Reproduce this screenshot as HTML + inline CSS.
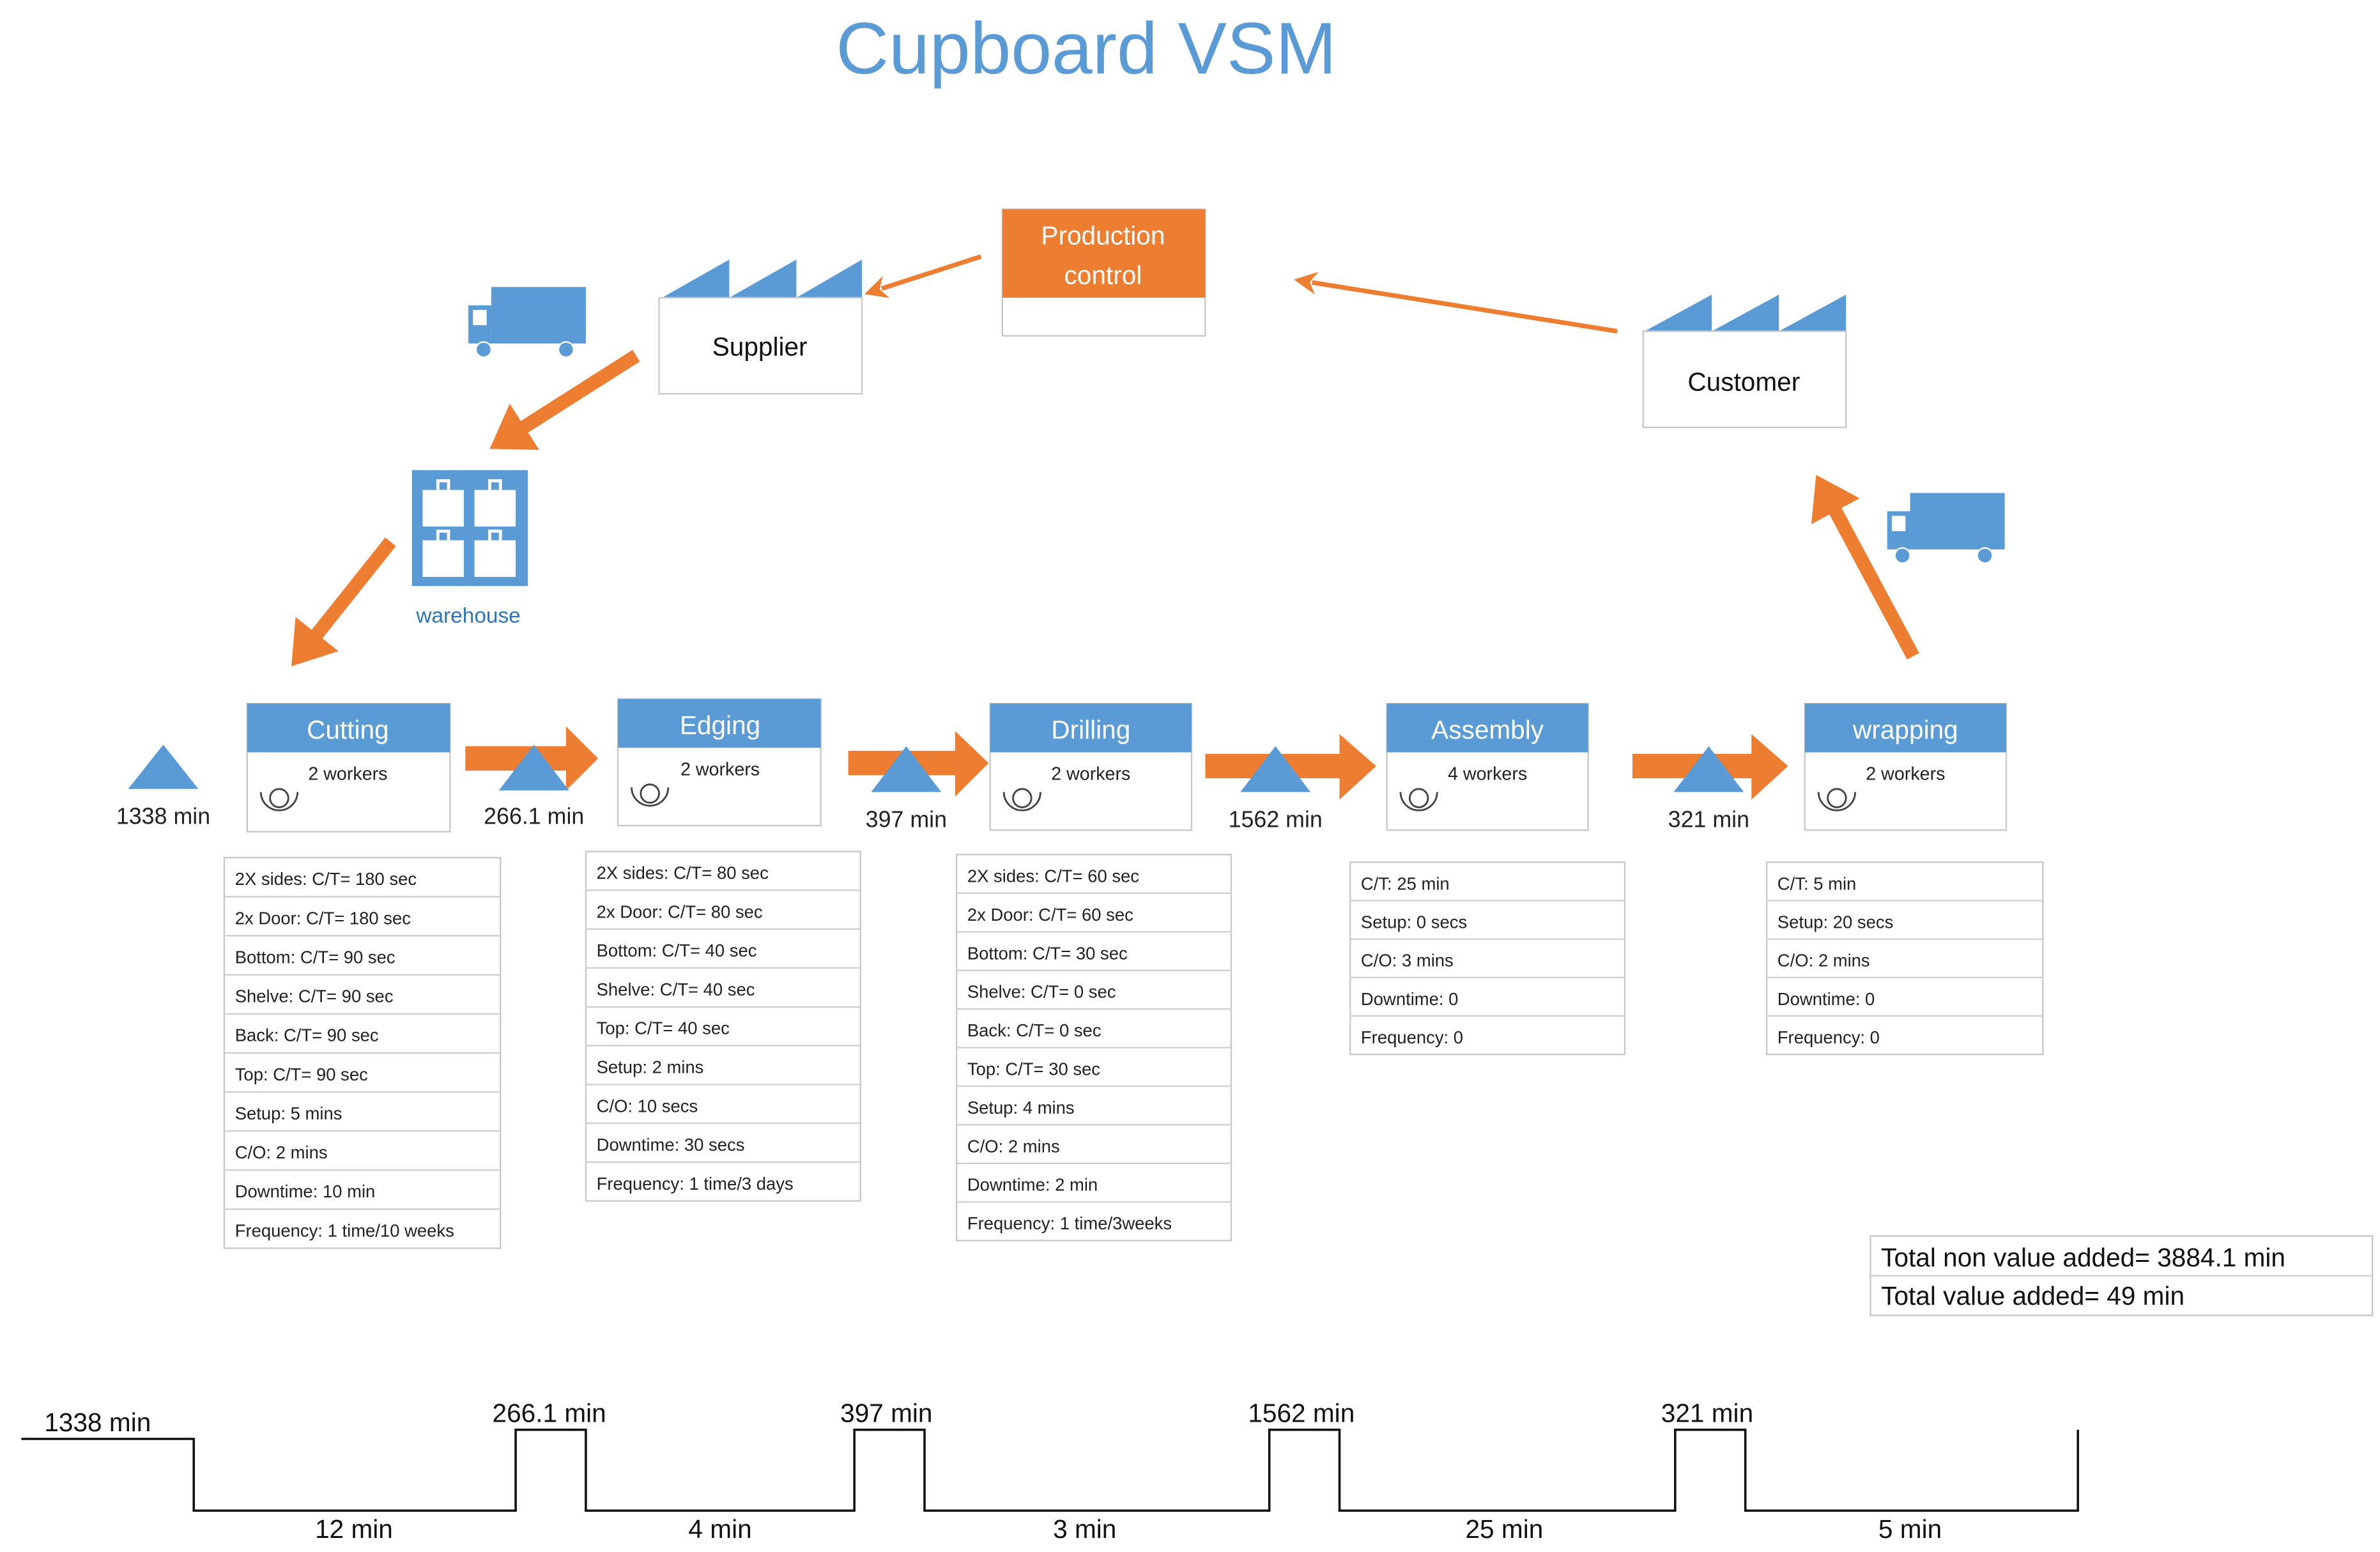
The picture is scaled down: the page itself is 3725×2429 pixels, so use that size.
<!DOCTYPE html>
<html><head><meta charset="utf-8"><style>html,body{margin:0;padding:0;background:#fff}svg{display:block}</style></head>
<body>
<svg width="3725" height="2429" viewBox="0 0 1560 1017" xmlns="http://www.w3.org/2000/svg" font-family="'Liberation Sans', sans-serif">
<defs>
<marker id="th" markerWidth="4" markerHeight="4" refX="0.5" refY="2" orient="auto" markerUnits="strokeWidth"><path d="M0,0 L3,2 L0,4 Z" fill="#ed7d31"/></marker>
<marker id="tn" markerWidth="5" markerHeight="5" refX="1" refY="2.5" orient="auto" markerUnits="strokeWidth"><path d="M0,0 L5,2.5 L0,5 L1.5,2.5 Z" fill="#ed7d31"/></marker>
<g id="truck"><rect x="15" y="0" width="62" height="37" fill="#5b9bd5"/><rect x="0" y="12" width="15" height="25" fill="#5b9bd5"/><rect x="3" y="15" width="9" height="10" fill="#fff"/><circle cx="10" cy="41" r="5" fill="#5b9bd5" stroke="#fff" stroke-width="1"/><circle cx="64" cy="41" r="5" fill="#5b9bd5" stroke="#fff" stroke-width="1"/></g>
<g id="op" fill="none" stroke="#444" stroke-width="1.2"><circle cx="0" cy="0" r="6"/><path d="M-12,-4 A12,12 0 0 0 12,-4"/></g>
</defs>
<text x="712" y="48" text-anchor="middle" font-size="48" fill="#5b9bd5">Cupboard VSM</text>

<rect x="657" y="137" width="133" height="83" fill="#fff" stroke="#c8c8c8"/>
<rect x="657" y="137" width="133" height="58" fill="#ed7d31"/>
<text x="723" y="160" text-anchor="middle" font-size="17" fill="#fff">Production</text>
<text x="723" y="186" text-anchor="middle" font-size="17" fill="#fff">control</text>

<path d="M434,195 L478,170 L478,195 Z M478,195 L522,170 L522,195 Z M522,195 L565,170 L565,195 Z" fill="#5b9bd5"/>
<rect x="432" y="195" width="133" height="63" fill="#fff" stroke="#c8c8c8"/>
<text x="498" y="233" text-anchor="middle" font-size="17" fill="#111">Supplier</text>

<path d="M1078,217 L1122,193 L1122,217 Z M1122,217 L1166,193 L1166,217 Z M1166,217 L1210,193 L1210,217 Z" fill="#5b9bd5"/>
<rect x="1077" y="217" width="133" height="63" fill="#fff" stroke="#c8c8c8"/>
<text x="1143" y="256" text-anchor="middle" font-size="17" fill="#111">Customer</text>

<line x1="643" y1="168" x2="578" y2="189" stroke="#ed7d31" stroke-width="3" marker-end="url(#tn)"/>
<line x1="1060" y1="217" x2="860" y2="185" stroke="#ed7d31" stroke-width="3" marker-end="url(#tn)"/>

<use href="#truck" x="307" y="188"/>
<use href="#truck" x="1237" y="323"/>

<line x1="417" y1="233" x2="340" y2="282" stroke="#ed7d31" stroke-width="9" marker-end="url(#th)"/>
<line x1="256" y1="355" x2="205" y2="419" stroke="#ed7d31" stroke-width="9" marker-end="url(#th)"/>
<line x1="1254" y1="430" x2="1201" y2="331" stroke="#ed7d31" stroke-width="9" marker-end="url(#th)"/>

<rect x="270" y="308" width="76" height="76" fill="#5b9bd5"/>
<g fill="#fff">
<rect x="277" y="321" width="27" height="24"/><rect x="311" y="321" width="27" height="24"/>
<rect x="277" y="354" width="27" height="24"/><rect x="311" y="354" width="27" height="24"/>
</g>
<g fill="none" stroke="#fff" stroke-width="2"><rect x="287" y="315" width="7" height="7"/><rect x="321" y="315" width="7" height="7"/><rect x="287" y="348" width="7" height="7"/><rect x="321" y="348" width="7" height="7"/></g>
<text x="307" y="408" text-anchor="middle" font-size="14" fill="#2e75b6">warehouse</text>

<g font-size="17" fill="#fff" text-anchor="middle">
<rect x="162" y="461" width="133" height="84" fill="#fff" stroke="#c8c8c8"/><rect x="162" y="461" width="133" height="32" fill="#5b9bd5"/><text x="228" y="484">Cutting</text>
<rect x="405" y="458" width="133" height="83" fill="#fff" stroke="#c8c8c8"/><rect x="405" y="458" width="133" height="32" fill="#5b9bd5"/><text x="472" y="481">Edging</text>
<rect x="649" y="461" width="132" height="83" fill="#fff" stroke="#c8c8c8"/><rect x="649" y="461" width="132" height="32" fill="#5b9bd5"/><text x="715" y="484">Drilling</text>
<rect x="909" y="461" width="132" height="83" fill="#fff" stroke="#c8c8c8"/><rect x="909" y="461" width="132" height="32" fill="#5b9bd5"/><text x="975" y="484">Assembly</text>
<rect x="1183" y="461" width="132" height="83" fill="#fff" stroke="#c8c8c8"/><rect x="1183" y="461" width="132" height="32" fill="#5b9bd5"/><text x="1249" y="484">wrapping</text>
</g>
<g font-size="12" fill="#222" text-anchor="middle">
<text x="228" y="511">2 workers</text><text x="472" y="508">2 workers</text><text x="715" y="511">2 workers</text><text x="975" y="511">4 workers</text><text x="1249" y="511">2 workers</text>
</g>
<use href="#op" x="183" y="523"/><use href="#op" x="426" y="520"/><use href="#op" x="670" y="523"/><use href="#op" x="930" y="523"/><use href="#op" x="1204" y="523"/>

<g fill="#ed7d31">
<rect x="305" y="489" width="68" height="16"/><path d="M371,476 L392,497 L371,518 Z"/>
<rect x="556" y="492" width="72" height="16"/><path d="M626,479 L648,500 L626,522 Z"/>
<rect x="790" y="494" width="90" height="16"/><path d="M878,481 L902,502 L878,524 Z"/>
<rect x="1070" y="494" width="80" height="16"/><path d="M1148,481 L1172,502 L1148,524 Z"/>
</g>
<g fill="#5b9bd5">
<path d="M84,517 L107,488 L130,517 Z"/>
<path d="M327,518 L350,488 L373,518 Z"/>
<path d="M571,519 L594,489 L617,519 Z"/>
<path d="M813,519 L836,489 L859,519 Z"/>
<path d="M1097,519 L1120,489 L1143,519 Z"/>
</g>
<g font-size="15" fill="#222" text-anchor="middle">
<text x="107" y="540">1338 min</text><text x="350" y="540">266.1 min</text><text x="594" y="542">397 min</text><text x="836" y="542">1562 min</text><text x="1120" y="542">321 min</text>
</g>

<g font-size="11.5" fill="#222" stroke="none">
<g transform="translate(147,562)">
<rect width="181" height="256" fill="#fff" stroke="#c8c8c8"/>
<g stroke="#d0d0d0"><line x1="0" x2="181" y1="25.6" y2="25.6"/><line x1="0" x2="181" y1="51.2" y2="51.2"/><line x1="0" x2="181" y1="76.8" y2="76.8"/><line x1="0" x2="181" y1="102.4" y2="102.4"/><line x1="0" x2="181" y1="128" y2="128"/><line x1="0" x2="181" y1="153.6" y2="153.6"/><line x1="0" x2="181" y1="179.2" y2="179.2"/><line x1="0" x2="181" y1="204.8" y2="204.8"/><line x1="0" x2="181" y1="230.4" y2="230.4"/></g>
<text x="7" y="18">2X sides: C/T= 180 sec</text><text x="7" y="43.6">2x Door: C/T= 180 sec</text><text x="7" y="69.2">Bottom: C/T= 90 sec</text><text x="7" y="94.8">Shelve: C/T= 90 sec</text><text x="7" y="120.4">Back: C/T= 90 sec</text><text x="7" y="146">Top: C/T= 90 sec</text><text x="7" y="171.6">Setup: 5 mins</text><text x="7" y="197.2">C/O: 2 mins</text><text x="7" y="222.8">Downtime: 10 min</text><text x="7" y="248.4">Frequency: 1 time/10 weeks</text>
</g>
<g transform="translate(384,558)">
<rect width="180" height="229" fill="#fff" stroke="#c8c8c8"/>
<g stroke="#d0d0d0"><line x1="0" x2="180" y1="25.4" y2="25.4"/><line x1="0" x2="180" y1="50.9" y2="50.9"/><line x1="0" x2="180" y1="76.3" y2="76.3"/><line x1="0" x2="180" y1="101.8" y2="101.8"/><line x1="0" x2="180" y1="127.2" y2="127.2"/><line x1="0" x2="180" y1="152.7" y2="152.7"/><line x1="0" x2="180" y1="178.1" y2="178.1"/><line x1="0" x2="180" y1="203.6" y2="203.6"/></g>
<text x="7" y="18">2X sides: C/T= 80 sec</text><text x="7" y="43.4">2x Door: C/T= 80 sec</text><text x="7" y="68.9">Bottom: C/T= 40 sec</text><text x="7" y="94.3">Shelve: C/T= 40 sec</text><text x="7" y="119.8">Top: C/T= 40 sec</text><text x="7" y="145.2">Setup: 2 mins</text><text x="7" y="170.7">C/O: 10 secs</text><text x="7" y="196.1">Downtime: 30 secs</text><text x="7" y="221.6">Frequency: 1 time/3 days</text>
</g>
<g transform="translate(627,560)">
<rect width="180" height="253" fill="#fff" stroke="#c8c8c8"/>
<g stroke="#d0d0d0"><line x1="0" x2="180" y1="25.3" y2="25.3"/><line x1="0" x2="180" y1="50.6" y2="50.6"/><line x1="0" x2="180" y1="75.9" y2="75.9"/><line x1="0" x2="180" y1="101.2" y2="101.2"/><line x1="0" x2="180" y1="126.5" y2="126.5"/><line x1="0" x2="180" y1="151.8" y2="151.8"/><line x1="0" x2="180" y1="177.1" y2="177.1"/><line x1="0" x2="180" y1="202.4" y2="202.4"/><line x1="0" x2="180" y1="227.7" y2="227.7"/></g>
<text x="7" y="18">2X sides: C/T= 60 sec</text><text x="7" y="43.3">2x Door: C/T= 60 sec</text><text x="7" y="68.6">Bottom: C/T= 30 sec</text><text x="7" y="93.9">Shelve: C/T= 0 sec</text><text x="7" y="119.2">Back: C/T= 0 sec</text><text x="7" y="144.5">Top: C/T= 30 sec</text><text x="7" y="169.8">Setup: 4 mins</text><text x="7" y="195.1">C/O: 2 mins</text><text x="7" y="220.4">Downtime: 2 min</text><text x="7" y="245.7">Frequency: 1 time/3weeks</text>
</g>
<g transform="translate(885,565)">
<rect width="180" height="126" fill="#fff" stroke="#c8c8c8"/>
<g stroke="#d0d0d0"><line x1="0" x2="180" y1="25.2" y2="25.2"/><line x1="0" x2="180" y1="50.4" y2="50.4"/><line x1="0" x2="180" y1="75.6" y2="75.6"/><line x1="0" x2="180" y1="100.8" y2="100.8"/></g>
<text x="7" y="18">C/T: 25 min</text><text x="7" y="43.2">Setup: 0 secs</text><text x="7" y="68.4">C/O: 3 mins</text><text x="7" y="93.6">Downtime: 0</text><text x="7" y="118.8">Frequency: 0</text>
</g>
<g transform="translate(1158,565)">
<rect width="181" height="126" fill="#fff" stroke="#c8c8c8"/>
<g stroke="#d0d0d0"><line x1="0" x2="181" y1="25.2" y2="25.2"/><line x1="0" x2="181" y1="50.4" y2="50.4"/><line x1="0" x2="181" y1="75.6" y2="75.6"/><line x1="0" x2="181" y1="100.8" y2="100.8"/></g>
<text x="7" y="18">C/T: 5 min</text><text x="7" y="43.2">Setup: 20 secs</text><text x="7" y="68.4">C/O: 2 mins</text><text x="7" y="93.6">Downtime: 0</text><text x="7" y="118.8">Frequency: 0</text>
</g>
</g>

<rect x="1226" y="810" width="329" height="52" fill="#fff" stroke="#c8c8c8"/>
<line x1="1226" x2="1555" y1="836" y2="836" stroke="#d0d0d0"/>
<text x="1233" y="830" font-size="17" fill="#111">Total non value added= 3884.1 min</text>
<text x="1233" y="855" font-size="17" fill="#111">Total value added= 49 min</text>

<polyline points="14,943 127,943 127,990 338,990 338,937 384,937 384,990 560,990 560,937 606,937 606,990 832,990 832,937 878,937 878,990 1098,990 1098,937 1144,937 1144,990 1362,990 1362,937" fill="none" stroke="#111" stroke-width="1.5"/>
<g font-size="17" fill="#111" text-anchor="middle">
<text x="64" y="938">1338 min</text><text x="360" y="932">266.1 min</text><text x="581" y="932">397 min</text><text x="853" y="932">1562 min</text><text x="1119" y="932">321 min</text>
<text x="232" y="1008">12 min</text><text x="472" y="1008">4 min</text><text x="711" y="1008">3 min</text><text x="986" y="1008">25 min</text><text x="1252" y="1008">5 min</text>
</g>
</svg>
</body></html>
